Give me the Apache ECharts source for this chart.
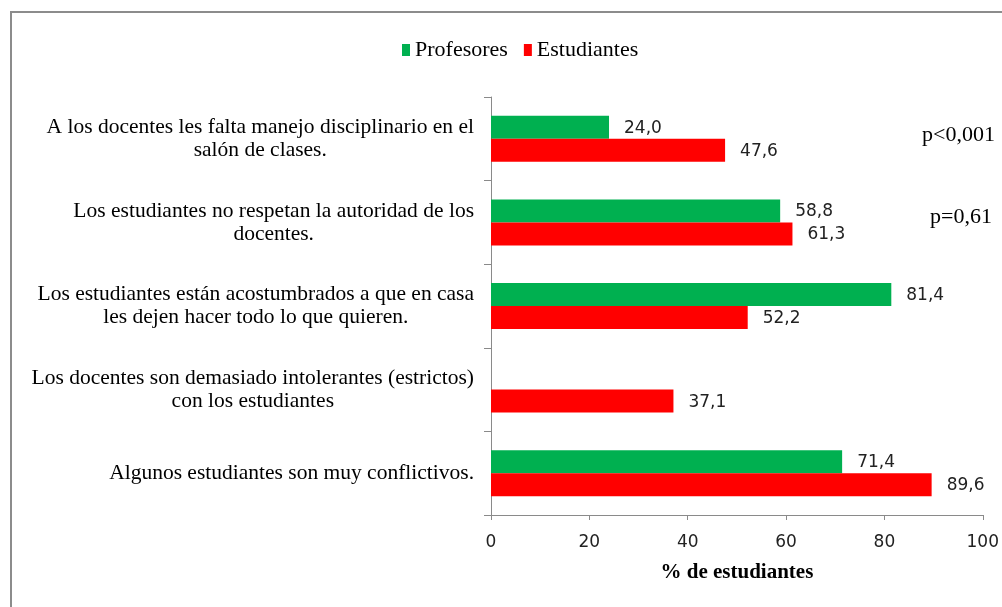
<!DOCTYPE html>
<html>
<head>
<meta charset="utf-8">
<script src="https://cdn.jsdelivr.net/npm/echarts@6/dist/echarts.min.js"></script>
<style>
    html, body { margin: 0; padding: 0; background: #fff; }
    #main { width: 1002px; height: 607px; }
</style>
</head>
<body>
<div id="main"></div>
<script>
var categorias = [
    'A los docentes les falta manejo disciplinario en el\nsalón de clases.',
    'Los estudiantes no respetan la autoridad de los\ndocentes.',
    'Los estudiantes están acostumbrados a que en casa\nles dejen hacer todo lo que quieren.',
    'Los docentes son demasiado intolerantes (estrictos)\ncon los estudiantes',
    'Algunos estudiantes son muy conflictivos.'
];
var profesores = [24.0, 58.8, 81.4, null, 71.4];
var estudiantes = [47.6, 61.3, 52.2, 37.1, 89.6];
var ticksX = [0, 20, 40, 60, 80, 100];

var serif = '"Liberation Serif", "Times New Roman", serif';
var sans = '"DejaVu Sans", sans-serif';

function etiqueta(p) {
    if (p.value == null) {
        return '';
    }
    return p.value.toFixed(1).replace('.', ',');
}

function barra(nombre, datos, color) {
    return {
        name: nombre,
        type: 'bar',
        data: datos,
        barWidth: 23,
        barGap: '0%',
        itemStyle: { color: color },
        label: {
            show: true,
            position: 'right',
            distance: 15,
            offset: [0, 1],
            formatter: etiqueta,
            fontFamily: sans,
            fontSize: 17,
            color: '#222'
        }
    };
}

var myChart = echarts.init(document.getElementById('main'));
myChart.setOption({
    animation: false,
    backgroundColor: '#fff',
    legend: {
        top: 34,
        left: 397,
        itemWidth: 8,
        itemHeight: 12,
        itemGap: 16,
        icon: 'rect',
        textStyle: { fontFamily: serif, fontSize: 22, color: '#000' },
        data: [
            { name: 'Profesores', textStyle: { fontFamily: serif } },
            { name: 'Estudiantes', textStyle: { fontFamily: serif } }
        ]
    },
    grid: { left: 491, right: 19, top: 97, bottom: 92, containLabel: false },
    xAxis: {
        type: 'value',
        min: ticksX[0],
        max: ticksX[ticksX.length - 1],
        interval: 20,
        name: '% de estudiantes',
        nameLocation: 'middle',
        nameGap: 47,
        nameTextStyle: { fontFamily: serif, fontSize: 21, fontWeight: 'bold', color: '#000' },
        axisLine: { show: true, lineStyle: { color: '#8a8a8a', width: 1 } },
        axisTick: { show: true, length: 5, lineStyle: { color: '#8a8a8a' } },
        axisLabel: { margin: 19, fontFamily: sans, fontSize: 17, color: '#222' },
        splitLine: { show: false }
    },
    yAxis: {
        type: 'category',
        inverse: true,
        data: categorias,
        axisLine: { show: true, lineStyle: { color: '#8a8a8a', width: 1 } },
        axisTick: { show: true, length: 7, lineStyle: { color: '#8a8a8a' } },
        axisLabel: {
            margin: 17,
            formatter: function (v) {
                return v.split('\n').map(function (l) { return '{c|' + l + '}'; }).join('\n');
            },
            rich: {
                c: { align: 'center', fontFamily: serif, fontSize: 21.5, lineHeight: 23, color: '#000' }
            }
        }
    },
    graphic: [
        {
            type: 'rect',
            shape: { x: 11, y: 12, width: 1100, height: 700 },
            style: { fill: 'none', stroke: '#8c8c8c', lineWidth: 2 },
            silent: true
        },
        {
            type: 'text', right: 7, top: 124,
            style: { text: 'p<0,001', fontFamily: serif, fontSize: 22, fill: '#000' }
        },
        {
            type: 'text', right: 10, top: 206,
            style: { text: 'p=0,61', fontFamily: serif, fontSize: 22, fill: '#000' }
        }
    ],
    series: [
        barra('Profesores', profesores, '#00B050'),
        barra('Estudiantes', estudiantes, '#FF0000')
    ]
});
</script>
</body>
</html>
